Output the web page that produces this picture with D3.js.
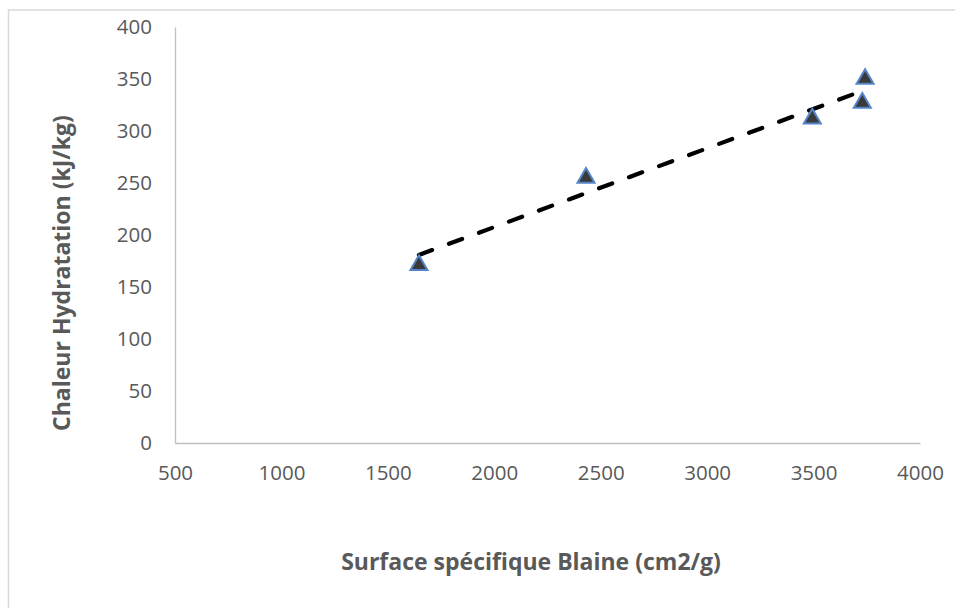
<!DOCTYPE html>
<html>
<head>
<meta charset="utf-8">
<script src="https://cdn.jsdelivr.net/npm/d3@7"></script>
<style>
  html, body { margin: 0; padding: 0; background: #fff; }
  svg { display: block; }
</style>
</head>
<body>
<script>
const blaine = [1646, 2431, 3494, 3729, 3742];
const chaleur = [172, 256, 313, 328, 351];
const xTicks = [500, 1000, 1500, 2000, 2500, 3000, 3500, 4000];
const yTicks = [0, 50, 100, 150, 200, 250, 300, 350, 400];
const xTitle = "Surface spécifique Blaine (cm2/g)";
const yTitle = "Chaleur Hydratation (kJ/kg)";

const W = 955, H = 608;
const svg = d3.select("body").append("svg").attr("width", W).attr("height", H);

svg.append("rect").attr("x", 8.5).attr("y", 10).attr("width", 960).attr("height", 620)
  .attr("fill", "#fff").attr("stroke", "#d9d9d9").attr("stroke-width", 1.5);

const x = d3.scaleLinear().domain([500, 4000]).range([175, 920]);
const y = d3.scaleLinear().domain([0, 400]).range([443, 27]);

const font = "'Open Sans', 'Noto Sans', sans-serif";
const txt = "#595959";

// axes
const xAxis = d3.axisBottom(x).tickValues(xTicks).tickSize(0).tickPadding(22).tickFormat(d3.format("d"));
const gx = svg.append("g").attr("transform", `translate(0,${y(0)})`).call(xAxis);
gx.select(".domain").attr("stroke", "#bfbfbf").attr("stroke-width", 1.3);
gx.selectAll("text").attr("fill", txt).attr("font-family", font).attr("font-size", 20.5);

const yAxis = d3.axisLeft(y).tickValues(yTicks).tickSize(0).tickPadding(23).tickFormat(d3.format("d"));
const gy = svg.append("g").attr("transform", `translate(${x(500)},0)`).call(yAxis);
gy.select(".domain").attr("stroke", "#bfbfbf").attr("stroke-width", 1.3);
gy.selectAll("text").attr("fill", txt).attr("font-family", font).attr("font-size", 20.5);

// trendline (least squares)
const n = blaine.length;
const mx = d3.mean(blaine), my = d3.mean(chaleur);
let sxy = 0, sxx = 0;
for (let i = 0; i < n; i++) { sxy += (blaine[i]-mx)*(chaleur[i]-my); sxx += (blaine[i]-mx)**2; }
const slope = sxy / sxx, icpt = my - slope * mx;
const x0 = d3.min(blaine), x1 = d3.max(blaine);
svg.append("line")
  .attr("x1", x(x0)).attr("y1", y(slope*x0+icpt))
  .attr("x2", x(x1)).attr("y2", y(slope*x1+icpt))
  .attr("stroke", "#000").attr("stroke-width", 4.2)
  .attr("stroke-linecap", "round").attr("stroke-dasharray", "14 18");

// markers
const tri = d3.symbol().type(d3.symbolTriangle).size(125);
svg.append("g").selectAll("path").data(blaine).join("path")
  .attr("d", tri)
  .attr("transform", (d, i) => `translate(${x(d)},${y(chaleur[i]) + 1})`)
  .attr("fill", "#3a3a3a").attr("stroke", "#5585c9").attr("stroke-width", 2);

// titles
svg.append("text").attr("x", 531).attr("y", 570).attr("text-anchor", "middle")
  .attr("font-family", font).attr("font-weight", "bold").attr("font-size", 23)
  .attr("fill", txt).text(xTitle);
svg.append("text").attr("transform", `translate(70,273) rotate(-90)`).attr("text-anchor", "middle")
  .attr("font-family", font).attr("font-weight", "bold").attr("font-size", 23)
  .attr("fill", txt).text(yTitle);
</script>
</body>
</html>
